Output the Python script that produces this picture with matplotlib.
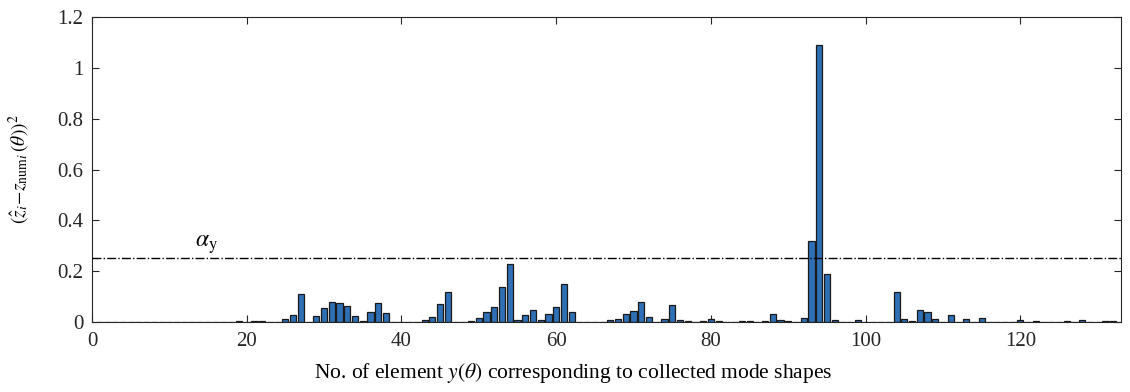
import numpy as np
import matplotlib
matplotlib.use("Agg")
import matplotlib.pyplot as plt
from matplotlib.ticker import FormatStrFormatter

plt.rcParams["font.family"] = ["Liberation Serif", "DejaVu Serif"]
plt.rcParams["mathtext.fontset"] = "stix"

# squared error per element, elements 1..132
element_no = np.arange(1, 133)
sq_error = [
    0, 0, 0, 0, 0, 0, 0, 0, 0, 0,                                   # 1-10
    0, 0, 0, 0, 0, 0, 0, 0, 0.003, 0,                               # 11-20
    0.004, 0.004, 0.001, 0, 0.011, 0.029, 0.109, 0, 0.024, 0.055,   # 21-30
    0.080, 0.075, 0.064, 0.025, 0.003, 0.038, 0.076, 0.037, 0.001, 0,  # 31-40
    0, 0, 0.007, 0.021, 0.071, 0.118, 0, 0, 0.005, 0.016,           # 41-50
    0.039, 0.060, 0.136, 0.228, 0.008, 0.026, 0.046, 0.008, 0.033, 0.060,  # 51-60
    0.150, 0.038, 0, 0, 0.001, 0.001, 0.008, 0.012, 0.031, 0.045,   # 61-70
    0.077, 0.021, 0, 0.012, 0.068, 0.006, 0.002, 0, 0.004, 0.012,   # 71-80
    0.005, 0, 0, 0.004, 0.005, 0, 0.002, 0.031, 0.008, 0.005,       # 81-90
    0, 0.014, 0.320, 1.090, 0.190, 0.006, 0.001, 0, 0.009, 0,       # 91-100
    0, 0, 0, 0.117, 0.011, 0.005, 0.049, 0.041, 0.011, 0,           # 101-110
    0.026, 0, 0.011, 0, 0.016, 0, 0, 0, 0.001, 0.007,               # 111-120
    0, 0.004, 0.001, 0.001, 0, 0.004, 0, 0.008, 0, 0.001,           # 121-130
    0.004, 0.003,                                                   # 131-132
]
alpha_y = 0.25

fig = plt.figure(figsize=(11.3, 3.92), dpi=100)
ax = fig.add_axes([0.0814, 0.1786, 0.9106, 0.778])

ax.bar(element_no, sq_error, width=0.8, color="#2f6fb6",
       edgecolor="#1a1a1a", linewidth=0.9, zorder=2)
ax.axhline(alpha_y, color="black", linestyle="-.", linewidth=1.0, zorder=3)
ax.text(13.3, alpha_y + 0.008, r"$\alpha_{\mathrm{y}}$", fontsize=17,
        ha="left", va="bottom")

ax.set_xlim(0, 133)
ax.set_ylim(0, 1.2)
ax.set_xticks(np.arange(0, 121, 20))
ax.set_yticks(np.arange(0, 1.21, 0.2))
ax.yaxis.set_major_formatter(FormatStrFormatter("%g"))
ax.tick_params(direction="in", top=True, right=True, labelsize=15,
               length=5, width=0.8, colors="#262626")
ax.tick_params(axis="x", pad=7)
ax.tick_params(axis="y", pad=6)
for spine in ax.spines.values():
    spine.set_color("#262626")
    spine.set_linewidth(0.8)

ax.set_xlabel(r"No. of element $y(\theta)$ corresponding to collected mode shapes",
              fontsize=15.5)
ax.xaxis.set_label_coords(0.468, -0.127)
ax.set_ylabel(r"$(\hat{z}_i\!-\!z_{\mathrm{num}i}\,(\theta))^2$", fontsize=14)
ax.yaxis.set_label_coords(-0.058, 0.5)

fig.savefig("out.png", dpi=100)
